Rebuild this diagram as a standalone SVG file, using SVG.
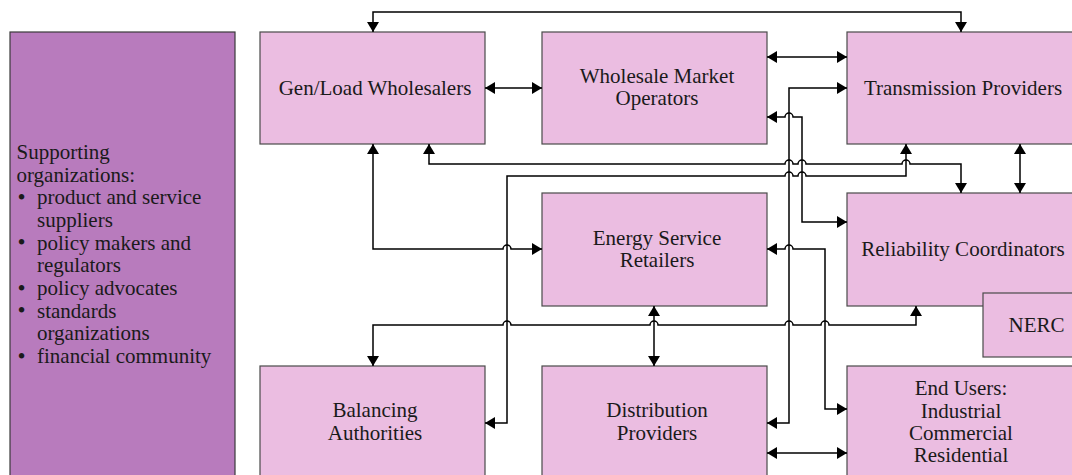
<svg xmlns="http://www.w3.org/2000/svg" width="1072" height="475" viewBox="0 0 1072 475">
<style>
.box{fill:#ebbde1;stroke:#4a4a4a;stroke-width:1.2}
.side{fill:#b87bbd;stroke:#3a3a3a;stroke-width:1.2}
.t{font-family:"Liberation Serif","Times New Roman",serif;font-size:21px;fill:#1a1a1a}
.c{text-anchor:middle}
.b{font-size:23px}
.ln{fill:none;stroke:#000;stroke-width:1.5;marker-start:url(#ah);marker-end:url(#ah)}
</style>
<defs>
<marker id="ah" markerUnits="userSpaceOnUse" markerWidth="10" markerHeight="12" refX="10" refY="6" orient="auto-start-reverse" viewBox="0 0 10 12">
<path d="M0,0 L10,6 L0,12 z" fill="#000"/>
</marker>
</defs>
<rect width="1072" height="475" fill="#fff"/>
<g id="supporting">
<rect class="side" x="10" y="32" width="225" height="460"/>
<text class="t" x="16.5" y="159">Supporting</text>
<text class="t" x="16.5" y="181.7">organizations:</text>
<text class="t b" x="17.5" y="205">•</text><text class="t" x="37" y="204.4">product and service</text>
<text class="t" x="37" y="227">suppliers</text>
<text class="t b" x="17.5" y="250.3">•</text><text class="t" x="37" y="249.7">policy makers and</text>
<text class="t" x="37" y="272.4">regulators</text>
<text class="t b" x="17.5" y="295.6">•</text><text class="t" x="37" y="295">policy advocates</text>
<text class="t b" x="17.5" y="318.3">•</text><text class="t" x="37" y="317.7">standards</text>
<text class="t" x="37" y="340.4">organizations</text>
<text class="t b" x="17.5" y="363.6">•</text><text class="t" x="37" y="363">financial community</text>
</g>
<g id="genload">
<rect class="box" x="260" y="32" width="225" height="112"/>
<text class="t c" x="375" y="94.5">Gen/Load Wholesalers</text>
</g>
<g id="wmo">
<rect class="box" x="542" y="32" width="225" height="112"/>
<text class="t c" x="657" y="83">Wholesale Market</text>
<text class="t c" x="657" y="105">Operators</text>
</g>
<g id="transmission">
<rect class="box" x="847" y="32" width="240" height="112"/>
<text class="t c" x="963" y="94.5">Transmission Providers</text>
</g>
<g id="esr">
<rect class="box" x="542" y="193" width="225" height="113"/>
<text class="t c" x="657" y="244.5">Energy Service</text>
<text class="t c" x="657" y="267">Retailers</text>
</g>
<g id="reliability">
<rect class="box" x="847" y="193" width="240" height="113"/>
<text class="t c" x="963" y="256">Reliability Coordinators</text>
</g>
<g id="nerc">
<rect class="box" x="983" y="293" width="110" height="64"/>
<text class="t c" x="1036.5" y="331.5">NERC</text>
</g>
<g id="balancing">
<rect class="box" x="260" y="366" width="225" height="120"/>
<text class="t c" x="375" y="417">Balancing</text>
<text class="t c" x="375" y="440">Authorities</text>
</g>
<g id="distribution">
<rect class="box" x="542" y="366" width="225" height="120"/>
<text class="t c" x="657" y="417">Distribution</text>
<text class="t c" x="657" y="440">Providers</text>
</g>
<g id="endusers">
<rect class="box" x="847" y="366" width="240" height="120"/>
<text class="t c" x="961" y="395">End Users:</text>
<text class="t c" x="961" y="417.5">Industrial</text>
<text class="t c" x="961" y="440">Commercial</text>
<text class="t c" x="961" y="462">Residential</text>
</g>
<g id="connectors">
<path class="ln" d="M373,32 L373,12 L961,12 L961,32"/>
<path class="ln" d="M485,88 L542,88"/>
<path class="ln" d="M767,57 L847,57"/>
<path class="ln" d="M767,423 L789,423 L789,88 L847,88"/>
<path class="ln" d="M767,117 L785,117 A4,4 0 0 1 793,117 L802,117 L802,222 L847,222"/>
<path class="ln" d="M373,144 L373,249 L503,249 A4,4 0 0 1 511,249 L542,249"/>
<path class="ln" d="M429,144 L429,164 L785,164 A4,4 0 0 1 793,164 L798,164 A4,4 0 0 1 806,164 L902,164 A4,4 0 0 1 910,164 L961,164 L961,193"/>
<path class="ln" d="M485,423 L507,423 L507,176 L785,176 A4,4 0 0 1 793,176 L798,176 A4,4 0 0 1 806,176 L906,176 L906,144"/>
<path class="ln" d="M373,366 L373,325 L503,325 A4,4 0 0 1 511,325 L650,325 A4,4 0 0 1 658,325 L785,325 A4,4 0 0 1 793,325 L821,325 A4,4 0 0 1 829,325 L916,325 L916,306"/>
<path class="ln" d="M654,306 L654,366"/>
<path class="ln" d="M767,249 L785,249 A4,4 0 0 1 793,249 L825,249 L825,409 L847,409"/>
<path class="ln" d="M767,453 L847,453"/>
<path class="ln" d="M1020,144 L1020,193"/>
</g>
</svg>
